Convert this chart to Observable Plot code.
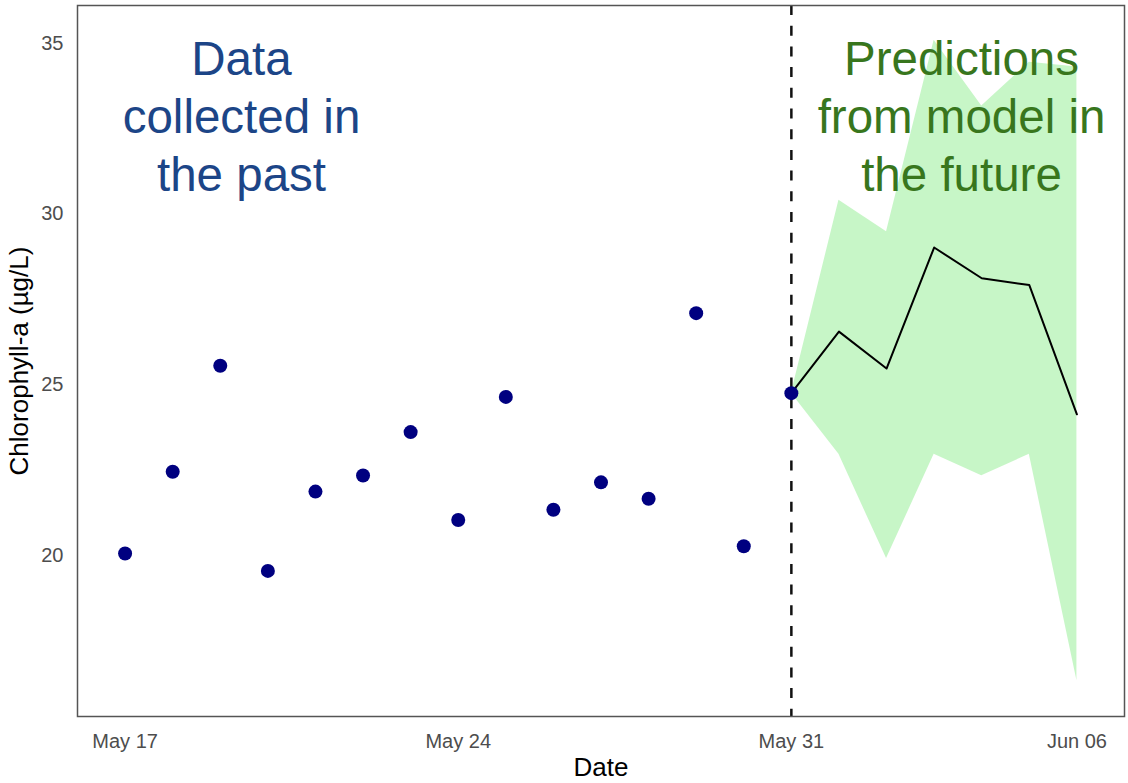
<!DOCTYPE html>
<html>
<head>
<meta charset="utf-8">
<script src="https://cdn.jsdelivr.net/npm/d3@7"></script>
<script src="https://cdn.jsdelivr.net/npm/@observablehq/plot@0.6"></script>
<style>
  html, body { margin: 0; padding: 0; background: white; }
  #chart { width: 1128px; height: 783px; }
</style>
</head>
<body>
<div id="chart"></div>
<script>
// Observed chlorophyll-a (past)
const obsDates = ["2023-05-17","2023-05-18","2023-05-19","2023-05-20","2023-05-21","2023-05-22","2023-05-23","2023-05-24","2023-05-25","2023-05-26","2023-05-27","2023-05-28","2023-05-29","2023-05-30","2023-05-31"];
const obsValues = [20.07, 22.46, 25.56, 19.56, 21.88, 22.35, 23.62, 21.05, 24.65, 21.35, 22.15, 21.67, 27.10, 20.28, 24.76];

// Model forecast (future)
const fcDates = ["2023-05-31","2023-06-01","2023-06-02","2023-06-03","2023-06-04","2023-06-05","2023-06-06"];
const fcMean  = [24.76, 26.56, 25.48, 29.02, 28.12, 27.92, 24.14];
const fcUpper = [24.76, 30.40, 29.48, 35.08, 33.16, 34.44, 34.30];
const fcLower = [24.76, 22.97, 19.92, 22.97, 22.34, 22.97, 16.35];

// Axis ticks
const xTicks = ["2023-05-17","2023-05-24","2023-05-31","2023-06-06"];
const yTicks = [20, 25, 30, 35];
const forecastStart = ["2023-05-31"];

// Annotations
const annoLabels = ["Data\ncollected in\nthe past", "Predictions\nfrom model in\nthe future"];
const annoDates = ["2023-05-19T10:42Z", "2023-06-03T13:48Z"];
const annoValues = [35, 35];
const annoColors = ["#1c4587", "#38761d"];

const observed = obsDates.map((d, i) => ({date: new Date(d), value: obsValues[i]}));
const forecast = fcDates.map((d, i) => ({date: new Date(d), mean: fcMean[i], upper: fcUpper[i], lower: fcLower[i]}));
const annotations = annoLabels.map((t, i) => ({label: t, date: new Date(annoDates[i]), value: annoValues[i], color: annoColors[i]}));

const chart = Plot.plot({
  width: 1128,
  height: 783,
  marginLeft: 77,
  marginRight: 4,
  marginTop: 5,
  marginBottom: 67,
  style: {fontFamily: "'Liberation Sans', Arial, sans-serif", fontSize: "20px", color: "#4d4d4d", background: "white"},
  x: {
    type: "utc",
    domain: [new Date("2023-05-16"), new Date("2023-06-07")],
    ticks: xTicks.map(d => new Date(d)),
    tickFormat: d3.utcFormat("%b %d"),
    tickSize: 0,
    tickPadding: 17,
    label: null
  },
  y: {
    domain: [15.3, 36.1],
    ticks: yTicks,
    tickSize: 0,
    tickPadding: 14,
    label: null
  },
  marks: [
    Plot.areaY(forecast, {x: "date", y1: "lower", y2: "upper", fill: "lightgreen", fillOpacity: 0.5}),
    Plot.text(annotations, {x: "date", y: "value", text: "label", fill: "color", fontSize: 47.5, lineAnchor: "top", lineHeight: 1.22, textAnchor: "middle", dy: -9}),
    Plot.ruleX(forecastStart.map(d => new Date(d)), {stroke: "#111", strokeWidth: 2.5, strokeDasharray: "10,10.7"}),
    Plot.lineY(forecast, {x: "date", y: "mean", stroke: "black", strokeWidth: 2}),
    Plot.dot(observed, {x: "date", y: "value", r: 7, fill: "#000080", stroke: "none"}),
    Plot.frame({stroke: "#555", strokeWidth: 1.5}),
    Plot.text(["Date"], {frameAnchor: "bottom", dy: 59, fontSize: 26, fill: "black", textAnchor: "middle"}),
    Plot.text(["Chlorophyll-a (µg/L)"], {frameAnchor: "left", dx: -58, rotate: -90, fontSize: 26, fill: "black", textAnchor: "middle", lineAnchor: "middle"})
  ]
});
document.getElementById("chart").appendChild(chart);
</script>
</body>
</html>
